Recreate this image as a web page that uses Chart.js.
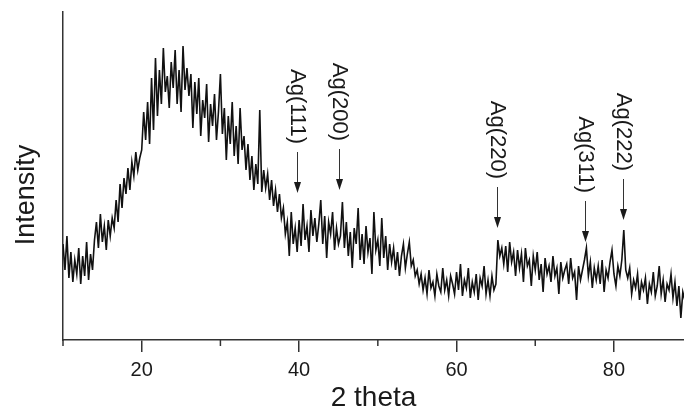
<!DOCTYPE html>
<html lang="en">
  <head>
    <meta charset="UTF-8" />
    <title>XRD pattern</title>
    <script src="https://cdn.jsdelivr.net/npm/chart.js"></script>
    <style>
      html, body { margin: 0; padding: 0; background: #fff; }
      #wrap { width: 684px; height: 412px; }
    </style>
  </head>
  <body>
    <div id="wrap"><canvas id="xrdChart"></canvas></div>
    <script>
      // 2 theta grid of the scan
      const twoThetaStart = 10;
      const twoThetaStep = 0.25;

      // intensity (arbitrary units), one row = 2 degrees
      const intensity = [
        96, 70, 104, 62, 88, 58, 80, 66,
        92, 56, 84, 64, 98, 60, 86, 70,
        100, 118, 92, 126, 98, 114, 90, 120,
        104, 122, 112, 140, 118, 156, 132, 162,
        146, 172, 150, 178, 164, 188, 170, 182,
        190, 228, 200, 238, 196, 262, 210, 282,
        224, 270, 236, 292, 248, 264, 232, 278,
        252, 290, 236, 270, 228, 294, 250, 272,
        244, 266, 212, 258, 226, 262, 204, 240,
        222, 256, 198, 236, 214, 246, 200, 228,
        266, 206, 232, 180, 224, 196, 238, 184,
        214, 176, 232, 190, 204, 170, 196, 160,
        184, 150, 176, 156, 230, 148, 170, 152,
        166, 140, 160, 134, 150, 128, 146, 122,
        132, 106, 118, 84, 128, 96, 112, 88,
        120, 94, 136, 100, 114, 88, 130, 104,
        122, 98, 116, 140, 96, 124, 82, 118,
        106, 128, 90, 112, 96, 104, 138, 92,
        118, 84, 108, 72, 112, 96, 132, 80,
        106, 76, 114, 88, 102, 66, 128, 90,
        100, 74, 122, 82, 104, 70, 96, 78,
        92, 70, 88, 64, 84, 96, 72, 86,
        98, 74, 80, 64, 70, 56, 66, 50,
        62, 46, 70, 52, 58, 44, 66, 54,
        48, 72, 50, 60, 44, 64, 56, 46,
        68, 50, 76, 44, 60, 52, 72, 42,
        58, 48, 66, 40, 62, 54, 74, 46,
        60, 44, 64, 50, 56, 100, 84, 92,
        76, 94, 68, 98, 78, 88, 64, 90,
        72, 86, 58, 92, 74, 80, 54, 84,
        70, 88, 60, 76, 48, 82, 66, 74,
        58, 84, 64, 72, 46, 78, 62, 70,
        76, 56, 82, 62, 68, 40, 74, 60,
        70, 80, 92, 64, 78, 52, 72, 60,
        74, 56, 80, 48, 70, 62, 78, 90,
        66, 54, 74, 64, 80, 110, 70, 62,
        72, 46, 60, 52, 66, 40, 58, 50,
        62, 36, 56, 48, 68, 44, 54, 74,
        46, 60, 38, 56, 50, 66, 42, 58,
        34, 54, 22, 48, 40,
      ];

      // Ag reflections marked with arrows
      const peakLabels = ["Ag(111)", "Ag(200)", "Ag(220)", "Ag(311)", "Ag(222)"];
      const peakAngles = [39.75, 45.1, 65.2, 76.3, 81.2];
      const arrowTips = [147, 150, 112, 98, 120];

      const majorTicks = [20, 40, 60, 80];
      const minorTicks = [10, 30, 50, 70];

      const axisColor = "#333";
      const textColor = "#1a1a1a";
      const fontFamily = '"Liberation Sans", Arial, sans-serif';

      const points = intensity.map((v, i) => ({
        x: twoThetaStart + i * twoThetaStep,
        y: v,
      }));

      const xrdMarks = {
        id: "xrdMarks",
        afterDraw(chart) {
          const { ctx } = chart;
          const x = chart.scales.x;
          const y = chart.scales.y;
          ctx.save();

          // short minor ticks under the axis
          ctx.strokeStyle = axisColor;
          ctx.lineWidth = 1.5;
          minorTicks.forEach((v) => {
            const px = x.getPixelForValue(v);
            ctx.beginPath();
            ctx.moveTo(px, y.bottom);
            ctx.lineTo(px, y.bottom + 6);
            ctx.stroke();
          });

          // peak arrows + rotated labels
          ctx.font = "22px " + fontFamily;
          ctx.fillStyle = textColor;
          ctx.lineWidth = 1;
          peakLabels.forEach((label, i) => {
            const px = Math.round(x.getPixelForValue(peakAngles[i])) + 0.5;
            const tip = y.getPixelForValue(arrowTips[i]);
            const tail = tip - 41;
            ctx.beginPath();
            ctx.moveTo(px, tail);
            ctx.lineTo(px, tip - 9);
            ctx.stroke();
            ctx.beginPath();
            ctx.moveTo(px, tip);
            ctx.lineTo(px - 3.5, tip - 11);
            ctx.lineTo(px + 3.5, tip - 11);
            ctx.closePath();
            ctx.fill();

            ctx.save();
            ctx.translate(px, tail - 8);
            ctx.rotate(Math.PI / 2);
            ctx.textAlign = "right";
            ctx.textBaseline = "middle";
            ctx.fillText(label, 0, 0);
            ctx.restore();
          });

          // y axis title, sits a bit below the middle
          ctx.font = "27px " + fontFamily;
          ctx.translate(27, 195);
          ctx.rotate(-Math.PI / 2);
          ctx.textAlign = "center";
          ctx.textBaseline = "middle";
          ctx.fillText("Intensity", 0, 0);
          ctx.restore();
        },
      };

      new Chart(document.getElementById("xrdChart"), {
        type: "line",
        data: {
          datasets: [
            {
              data: points,
              borderColor: "#111",
              borderWidth: 1.6,
              pointRadius: 0,
              tension: 0,
              fill: false,
            },
          ],
        },
        options: {
          responsive: true,
          maintainAspectRatio: false,
          animation: false,
          layout: { padding: { top: 12, right: 0, bottom: 0, left: 0 } },
          plugins: {
            legend: { display: false },
            tooltip: { enabled: false },
          },
          scales: {
            x: {
              type: "linear",
              min: 10,
              max: 88.9,
              afterFit: (scale) => {
                scale.height = 72;
              },
              border: { display: true, color: axisColor, width: 1.5 },
              grid: {
                drawOnChartArea: false,
                drawTicks: true,
                tickLength: 12,
                lineWidth: 1.5,
                color: (c) =>
                  c.tick && majorTicks.includes(c.tick.value) ? axisColor : "rgba(0,0,0,0)",
              },
              ticks: {
                stepSize: 10,
                includeBounds: false,
                autoSkip: false,
                maxRotation: 0,
                padding: 6,
                color: textColor,
                font: { family: fontFamily, size: 20 },
                callback: (v) => (majorTicks.includes(v) ? String(v) : ""),
              },
              title: {
                display: true,
                text: "2 theta",
                color: textColor,
                padding: { top: 0, bottom: 0 },
                font: { family: fontFamily, size: 28, lineHeight: 1 },
              },
            },
            y: {
              min: 0,
              max: 328,
              afterFit: (scale) => {
                scale.width = 63;
              },
              border: { display: true, color: axisColor, width: 1.5 },
              grid: { display: false },
              ticks: { display: false },
            },
          },
        },
        plugins: [xrdMarks],
      });
    </script>
  </body>
</html>
